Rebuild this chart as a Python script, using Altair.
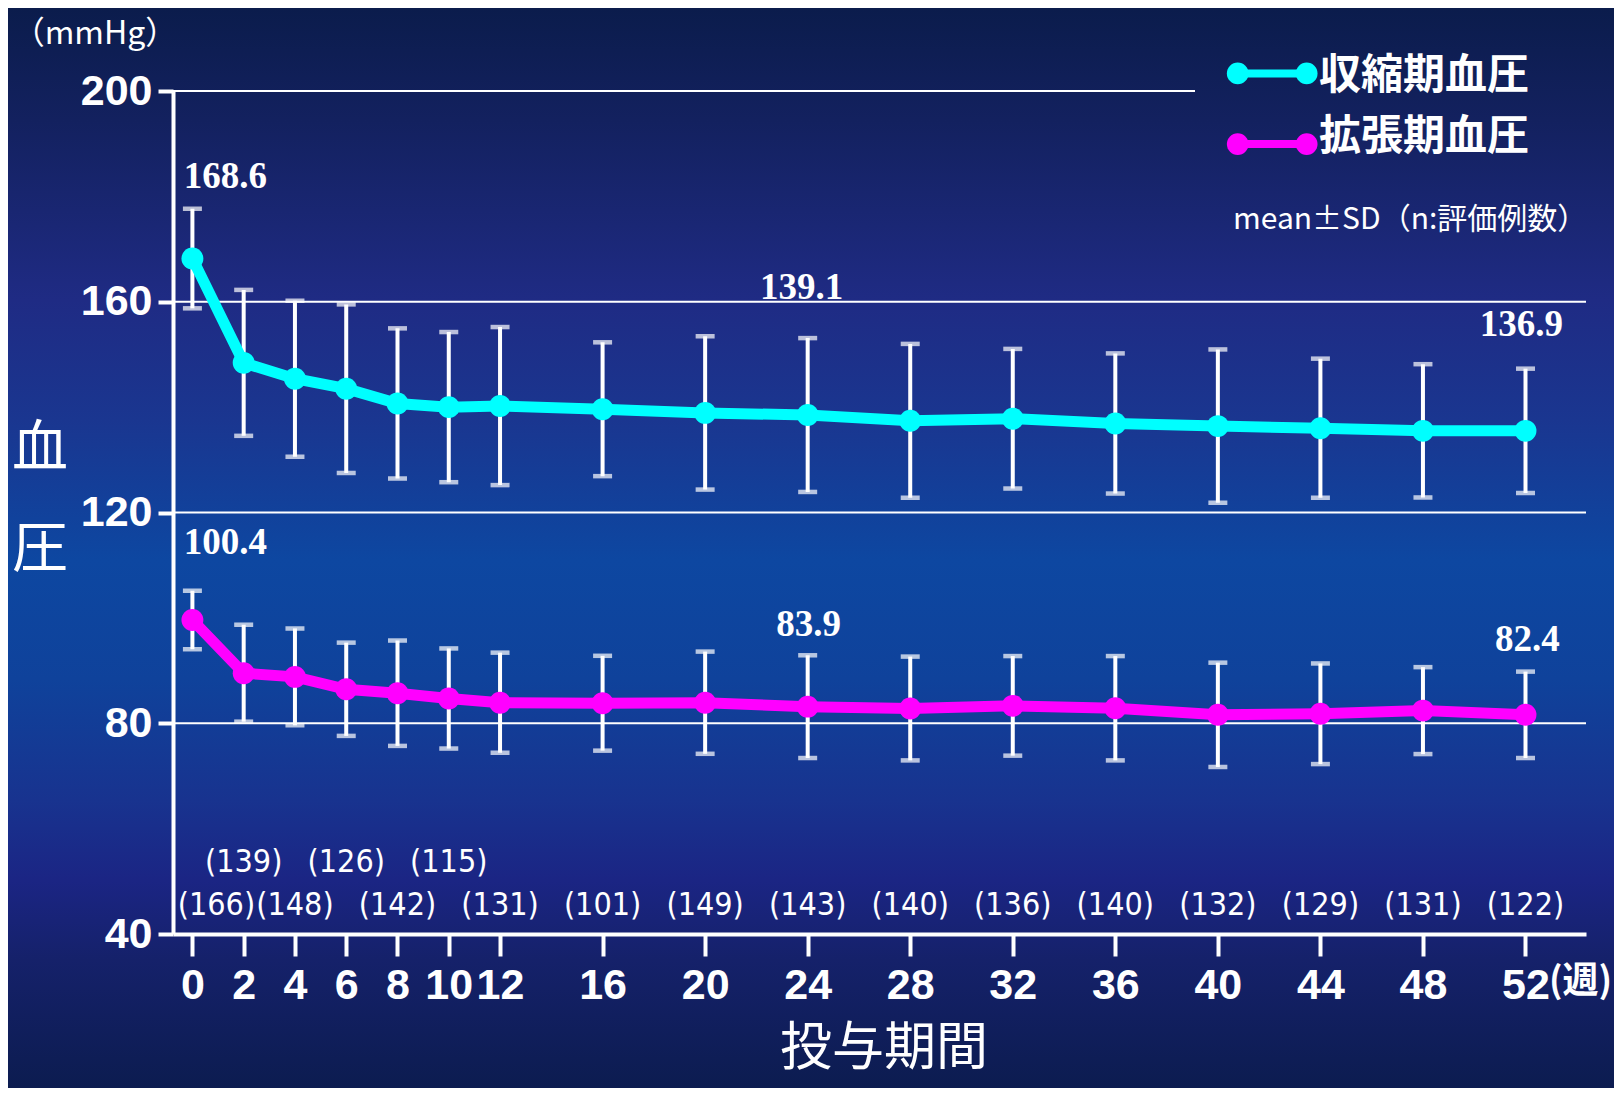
import altair as alt
import pandas as pd

# ---------------- data ----------------
weeks = [0, 2, 4, 6, 8, 10, 12, 16, 20, 24, 28, 32, 36, 40, 44, 48, 52]
sbp_mean = [168.2, 148.4, 145.4, 143.5, 140.7, 140.0, 140.2, 139.6, 138.9, 138.5,
            137.4, 137.8, 136.9, 136.4, 136.0, 135.5, 135.5]
sbp_sd = [9.45, 13.85, 14.8, 16.0, 14.25, 14.25, 15.0, 12.7, 14.55, 14.6,
          14.6, 13.25, 13.3, 14.55, 13.2, 12.65, 11.8]
dbp_mean = [99.6, 89.5, 88.8, 86.45, 85.7, 84.7, 83.9, 83.8, 83.9, 83.15,
            82.8, 83.3, 82.85, 81.6, 81.8, 82.4, 81.6]
dbp_sd = [5.55, 9.2, 9.2, 8.85, 10.0, 9.5, 9.5, 9.0, 9.7, 9.75,
          9.85, 9.45, 9.9, 9.9, 9.55, 8.25, 8.2]
n_counts = [166, 139, 148, 126, 142, 115, 131, 101, 149, 143,
            140, 136, 140, 132, 129, 131, 122]
series_names = ["収縮期血圧", "拡張期血圧"]
series_colors = ["#00FFFF", "#FF00FF"]
y_ticks = [40, 80, 120, 160, 200]
grid_full = [80, 120, 160]
grid_top = [200]
label_series = ["収縮期血圧", "収縮期血圧", "収縮期血圧", "拡張期血圧", "拡張期血圧", "拡張期血圧"]
label_weeks = [0, 24, 52, 0, 24, 52]
label_texts = ["168.6", "139.1", "136.9", "100.4", "83.9", "82.4"]
upper_row_weeks = [2, 6, 10]

rows = []
for name, means, sds in [(series_names[0], sbp_mean, sbp_sd), (series_names[1], dbp_mean, dbp_sd)]:
    for w, m, s in zip(weeks, means, sds):
        rows.append({"series": name, "week": w, "mean": m, "lo": m - s, "hi": m + s})
df = pd.DataFrame(rows)

n_df = pd.DataFrame({"week": weeks, "n": [f"({n})" for n in n_counts]})
n_df["row"] = ["upper" if w in upper_row_weeks else "lower" for w in weeks]

# ---------------- layout / style ----------------
W, H = 1413, 843
PAD = {"left": 165, "top": 83, "right": 28, "bottom": 154}
WHITE = "white"
CJK = "Noto Sans CJK JP"

xscale = alt.Scale(domain=[-0.757, 54.36], nice=False, zero=False)
yscale = alt.Scale(domain=[40, 200], nice=False, zero=False)
xaxis = alt.Axis(values=weeks, title=None, grid=False, zindex=1,
                 domainColor=WHITE, domainWidth=4, tickColor=WHITE, tickWidth=4,
                 tickSize=22, labelColor=WHITE, labelFont="Liberation Sans",
                 labelFontWeight="bold", labelFontSize=43, labelPadding=8,
                 labelOverlap=False, labelFlush=False)
yaxis = alt.Axis(values=y_ticks, title=None, grid=False, zindex=1,
                 domainColor=WHITE, domainWidth=4, tickColor=WHITE, tickWidth=4,
                 tickSize=15, labelColor=WHITE, labelFont="Liberation Sans",
                 labelFontWeight="bold", labelFontSize=43, labelPadding=6,
                 labelOverlap=False, labelFlush=False)

X = alt.X("week:Q", scale=xscale, axis=xaxis)
color = alt.Color("series:N", scale=alt.Scale(domain=series_names, range=series_colors), legend=None)

dummy = pd.DataFrame({"a": [0]})

gradient = {
    "gradient": "linear", "x1": 0, "y1": 0, "x2": 0, "y2": 1,
    "stops": [
        {"offset": 0.0, "color": "#0b1c4c"},
        {"offset": 0.104, "color": "#13215f"},
        {"offset": 0.27, "color": "#1f2b84"},
        {"offset": 0.381, "color": "#1a3690"},
        {"offset": 0.511, "color": "#0d47a1"},
        {"offset": 0.622, "color": "#0f429b"},
        {"offset": 0.733, "color": "#18338f"},
        {"offset": 0.807, "color": "#1b2584"},
        {"offset": 0.881, "color": "#15216a"},
        {"offset": 1.0, "color": "#0c1c50"},
    ],
}

bg = alt.Chart(dummy).mark_rect(fill=gradient, strokeWidth=0).encode(
    x=alt.value(-PAD["left"]), x2=alt.value(W + PAD["right"]),
    y=alt.value(-PAD["top"]), y2=alt.value(H + PAD["bottom"]))

grid1 = alt.Chart(pd.DataFrame({"g": grid_full})).mark_rule(color=WHITE, strokeWidth=2).encode(
    y=alt.Y("g:Q", scale=yscale, axis=yaxis), x=alt.value(0), x2=alt.value(W))
grid2 = alt.Chart(pd.DataFrame({"g": grid_top})).mark_rule(color=WHITE, strokeWidth=2).encode(
    y=alt.Y("g:Q", scale=yscale, axis=yaxis), x=alt.value(0), x2=alt.value(1022))

base = alt.Chart(df)
bars = base.mark_rule(color=WHITE, strokeWidth=4).encode(
    x=X, y=alt.Y("lo:Q", scale=yscale, axis=yaxis), y2="hi:Q")
cap_hi = base.mark_tick(color=WHITE, orient="horizontal", size=19, thickness=4.5).encode(
    x=X, y=alt.Y("hi:Q", scale=yscale, axis=yaxis))
cap_lo = base.mark_tick(color=WHITE, orient="horizontal", size=19, thickness=4.5).encode(
    x=X, y=alt.Y("lo:Q", scale=yscale, axis=yaxis))
lines = base.mark_line(strokeWidth=11).encode(
    x=X, y=alt.Y("mean:Q", scale=yscale, axis=yaxis), color=color, detail="series:N")
points = base.mark_circle(size=480, opacity=1).encode(
    x=X, y=alt.Y("mean:Q", scale=yscale, axis=yaxis), color=color)

label_offsets = [(33, -82), (-6, -127.5), (-4, -106), (33, -77), (1, -82), (2, -75)]
value_labels = []
for s, w, t, (dx, dy) in zip(label_series, label_weeks, label_texts, label_offsets):
    value_labels.append(
        base.transform_filter((alt.datum.series == s) & (alt.datum.week == w))
        .mark_text(text=t, dx=dx, dy=dy, font="Liberation Serif", fontWeight="bold",
                   fontSize=37, color=WHITE, align="center", baseline="middle")
        .encode(x=X, y=alt.Y("mean:Q", scale=yscale, axis=yaxis)))

NFONT = "Liberation Sans Narrow, DejaVu Sans Condensed, Liberation Sans"


def n_layer(filter_expr, ypos, dx=0):
    return alt.Chart(n_df).transform_filter(filter_expr).mark_text(
        font=NFONT, fontSize=32, color=WHITE, align="center", baseline="middle", dx=dx
    ).encode(x=X, y=alt.value(ypos), text="n:N")


n_first = n_layer((alt.datum.row == "lower") & (alt.datum.week == 0), 814, dx=24)
n_lower = n_layer((alt.datum.row == "lower") & (alt.datum.week > 0), 814)
n_upper = n_layer(alt.datum.row == "upper", 771)


def note(text, x, y, size, weight="normal", align="center", font=CJK):
    return alt.Chart(dummy).mark_text(
        text=text, font=font, fontSize=size, fontWeight=weight, color=WHITE,
        align=align, baseline="middle").encode(x=alt.value(x), y=alt.value(y))


notes = [
    note("（mmHg）", -78, -57, 32),
    note("血", -133, 358, 56),
    note("圧", -133, 459, 56),
    note("投与期間", 711, 958, 52),
    note("(週)", 1376, 891, 36, weight="bold", align="left"),
    note("収縮期血圧", 1146, -15, 42, weight="bold", align="left"),
    note("拡張期血圧", 1146, 46, 42, weight="bold", align="left"),
    note("mean±SD（n:評価例数）", 1060, 129, 30, align="left"),
]

legend_marks = []
for col, ly in zip(series_colors, [-17.6, 53.1]):
    legend_marks.append(alt.Chart(dummy).mark_rule(color=col, strokeWidth=8).encode(
        x=alt.value(1064.7), x2=alt.value(1133.7), y=alt.value(ly)))
    for lx in [1064.7, 1133.7]:
        legend_marks.append(alt.Chart(dummy).mark_circle(color=col, size=470, opacity=1).encode(
            x=alt.value(lx), y=alt.value(ly)))

chart = alt.layer(
    bg, grid1, grid2, bars, cap_hi, cap_lo, lines, points,
    *value_labels, n_first, n_lower, n_upper, *notes, *legend_marks
).properties(
    width=W, height=H, padding=PAD,
    autosize=alt.AutoSizeParams(type="none"),
    background="#10245f",
).configure_view(stroke=None)

chart.save("out.html", embed_options={"renderer": "svg", "actions": False})
